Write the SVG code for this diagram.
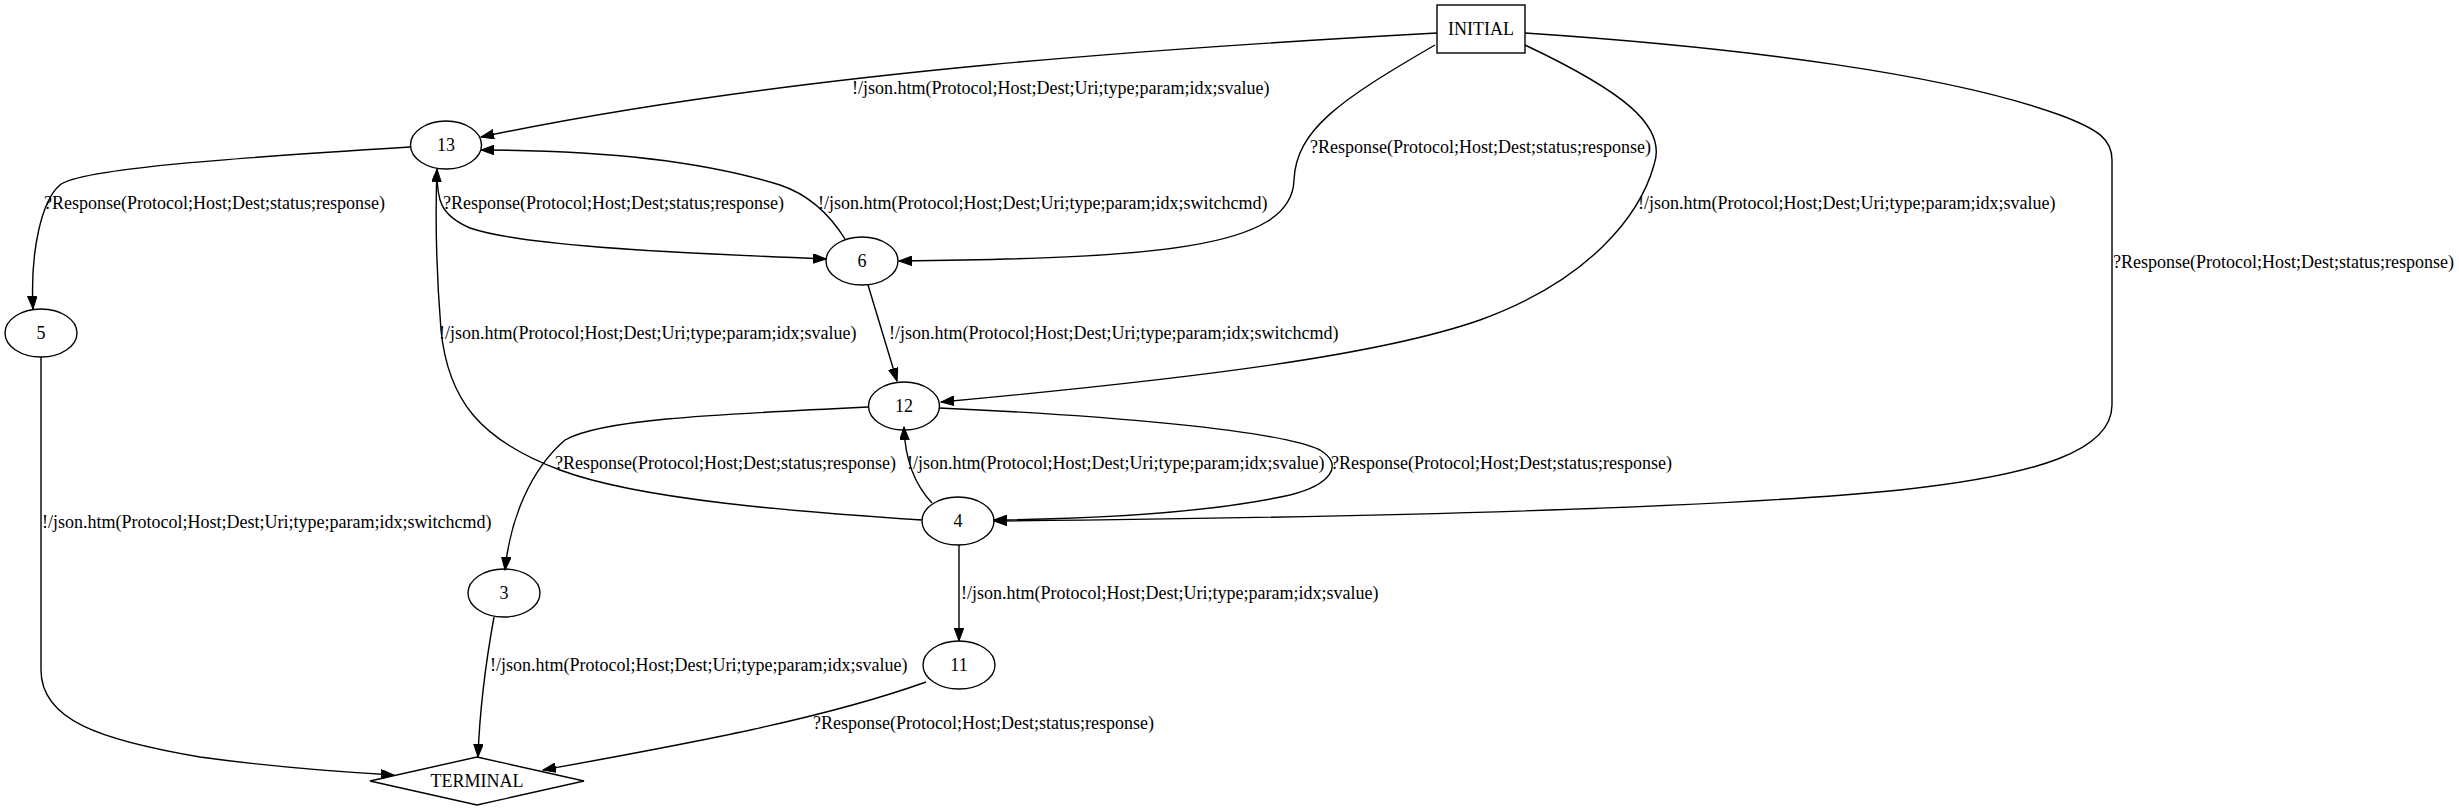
<svg xmlns="http://www.w3.org/2000/svg" width="2459" height="811" viewBox="0 0 2459 811">
<style>
.n{fill:none;stroke:#000;stroke-width:1.4}
.e{fill:none;stroke:#000;stroke-width:1.4;marker-end:url(#ah)}
.el{fill:none;stroke:#000;stroke-width:1.4}
text{font-family:"Liberation Serif","Times New Roman",serif;font-size:18px;fill:#000}
.c{text-anchor:middle}
</style>
<defs>
<marker id="ah" markerUnits="userSpaceOnUse" markerWidth="14" markerHeight="10" refX="13" refY="4.8" orient="auto">
<path d="M0,0 L13,4.8 L0,9.6 z" fill="#000" stroke="#000" stroke-width="1"/>
</marker>
</defs>
<rect width="2459" height="811" fill="#fff"/>
<g id="edges">
<path class="e" d="M1437,33 C1200,46 800,70 481,137"/>
<text x="852" y="94">!/json.htm(Protocol;Host;Dest;Uri;type;param;idx;svalue)</text>
<path class="e" d="M1435,45 C1340,100 1296,130 1294,180 C1292,250 1150,258 899,261"/>
<text x="1310" y="153">?Response(Protocol;Host;Dest;status;response)</text>
<path class="e" d="M1525,45 C1620,90 1668,125 1654,165 C1640,215 1590,280 1480,320 C1380,355 1200,378 941,402"/>
<text x="1638" y="209">!/json.htm(Protocol;Host;Dest;Uri;type;param;idx;svalue)</text>
<path class="e" d="M1525,33 C1750,48 1950,75 2060,115 C2100,130 2112,140 2112,160 L2112,405 C2112,450 2040,475 1900,490 C1700,510 1300,518 994,521"/>
<text x="2113" y="268">?Response(Protocol;Host;Dest;status;response)</text>
<path class="e" d="M410,147 C250,157 80,168 60,185 C42,200 30,250 33,309"/>
<text x="44" y="209">?Response(Protocol;Host;Dest;status;response)</text>
<path class="e" d="M437,172 C437,200 440,215 470,228 C520,245 650,252 826,259"/>
<text x="443" y="209">?Response(Protocol;Host;Dest;status;response)</text>
<path class="e" d="M845,239 C830,215 810,195 780,185 C700,160 600,150 481,150"/>
<text x="818" y="209">!/json.htm(Protocol;Host;Dest;Uri;type;param;idx;switchcmd)</text>
<path class="e" d="M868,285 L897,381"/>
<text x="889" y="339">!/json.htm(Protocol;Host;Dest;Uri;type;param;idx;switchcmd)</text>
<path class="e" d="M922,520 C800,512 640,500 560,470 C480,440 448,400 441,330 C437,280 435,220 437,169"/>
<text x="439" y="339">!/json.htm(Protocol;Host;Dest;Uri;type;param;idx;svalue)</text>
<path class="e" d="M868,407 C700,415 600,420 565,440 C530,470 510,520 505,570"/>
<text x="555" y="469">?Response(Protocol;Host;Dest;status;response)</text>
<path class="e" d="M932,503 C915,485 905,460 904,427"/>
<text x="907" y="469">!/json.htm(Protocol;Host;Dest;Uri;type;param;idx;svalue)</text>
<path class="e" d="M939,408 C1100,415 1280,430 1320,450 C1345,465 1330,485 1290,495 C1200,515 1080,519 994,520"/>
<text x="1331" y="469">?Response(Protocol;Host;Dest;status;response)</text>
<path class="e" d="M959,545 L959,641"/>
<text x="961" y="599">!/json.htm(Protocol;Host;Dest;Uri;type;param;idx;svalue)</text>
<path class="e" d="M494,617 C488,650 480,700 478,757"/>
<text x="490" y="671">!/json.htm(Protocol;Host;Dest;Uri;type;param;idx;svalue)</text>
<path class="e" d="M926,682 C820,720 680,745 543,770"/>
<text x="813" y="729">?Response(Protocol;Host;Dest;status;response)</text>
<path class="e" d="M41,357 L41,670 C41,720 100,740 200,757 C280,768 340,772 394,775"/>
<text x="42" y="528">!/json.htm(Protocol;Host;Dest;Uri;type;param;idx;switchcmd)</text>
</g>
<g id="node-INITIAL"><rect class="n" x="1437" y="5" width="88" height="48"/><text class="c" x="1481" y="35">INITIAL</text></g>
<g id="node-13"><ellipse class="n" cx="446" cy="145" rx="35.5" ry="24"/><text class="c" x="446" y="151">13</text></g>
<g id="node-6"><ellipse class="n" cx="862" cy="261" rx="36" ry="24"/><text class="c" x="862" y="267">6</text></g>
<g id="node-5"><ellipse class="n" cx="41" cy="333" rx="36" ry="24"/><text class="c" x="41" y="339">5</text></g>
<g id="node-12"><ellipse class="n" cx="904" cy="406" rx="35.5" ry="24"/><text class="c" x="904" y="412">12</text></g>
<g id="node-4"><ellipse class="n" cx="958" cy="521" rx="36" ry="24"/><text class="c" x="958" y="527">4</text></g>
<g id="node-3"><ellipse class="n" cx="504" cy="593" rx="36" ry="24"/><text class="c" x="504" y="599">3</text></g>
<g id="node-11"><ellipse class="n" cx="959" cy="665" rx="36" ry="24"/><text class="c" x="959" y="671">11</text></g>
<g id="node-TERMINAL"><polygon class="n" points="477,757 584,781 477,805 370,781"/><text class="c" x="477" y="787">TERMINAL</text></g>
</svg>
